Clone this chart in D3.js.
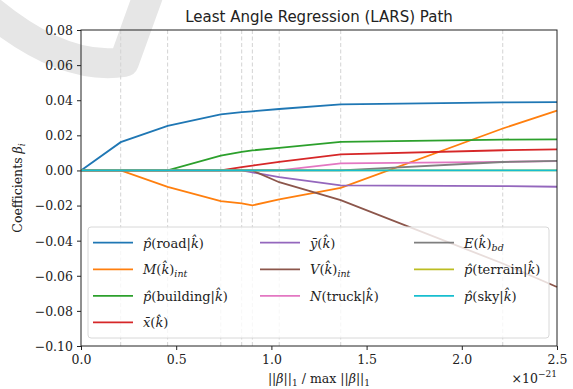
<!DOCTYPE html>
<html lang="en">
  <head>
    <meta charset="UTF-8" />
    <script src="https://cdn.jsdelivr.net/npm/d3@7" type="text/javascript"></script>
    <style type="text/css">
      body {
        margin: 0;
        background-color: #ffffff;
      }
    </style>
    <title>Least Angle Regression (LARS) Path</title>
  </head>
  <body>
    <div class="canvas"></div>
    <script>
      // breakpoints of the path, in units of 1e-21
      const steps = [0, 0.2085, 0.455, 0.734, 0.844, 0.9, 1.041, 1.364, 2.215, 2.5];

      const road = [0, 0.0161, 0.0254, 0.0319, 0.0332, 0.0337, 0.035, 0.0376, 0.0388, 0.0389];
      const mInt = [0, 0, -0.0093, -0.0175, -0.0188, -0.0199, -0.0165, -0.0099, 0.0239, 0.0341];
      const building = [0, 0, 0, 0.0085, 0.0106, 0.0114, 0.0129, 0.0163, 0.0176, 0.0177];
      const xBar = [0, 0, 0, 0, 0.0019, 0.0028, 0.0049, 0.0091, 0.0115, 0.012];
      const yBar = [0, 0, 0, 0, 0, -0.0011, -0.0038, -0.0085, -0.0089, -0.0093];
      const vInt = [0, 0, 0, 0, 0, 0, -0.0067, -0.0169, -0.053, -0.0664];
      const truck = [0, 0, 0, 0, 0, 0, 0, 0.004, 0.0049, 0.0053];
      const eBd = [0, 0, 0, 0, 0, 0, 0, 0, 0.0048, 0.0055];
      const terrain = [0, 0, 0, 0, 0, 0, 0, 0, 0, 0];
      const sky = [0, 0, 0, 0, 0, 0, 0, 0, 0, 0];

      const xTicks = [0, 0.5, 1.0, 1.5, 2.0, 2.5];
      const yTicks = [-0.1, -0.08, -0.06, -0.04, -0.02, 0, 0.02, 0.04, 0.06, 0.08];

      // legend labels as [text, style] pieces: r roman, i italic, s subscript
      const hat = "\u0302";
      const series = [
        { values: road, color: "#1f77b4", label: [["p" + hat, "i"], ["(road|", "r"], ["k" + hat, "i"], [")", "r"]] },
        { values: mInt, color: "#ff7f0e", label: [["M", "i"], ["(", "r"], ["k" + hat, "i"], [")", "r"], ["int", "s"]] },
        { values: building, color: "#2ca02c", label: [["p" + hat, "i"], ["(building|", "r"], ["k" + hat, "i"], [")", "r"]] },
        { values: xBar, color: "#d62728", label: [["x\u0304", "i"], ["(", "r"], ["k" + hat, "i"], [")", "r"]] },
        { values: yBar, color: "#9467bd", label: [["y\u0304", "i"], ["(", "r"], ["k" + hat, "i"], [")", "r"]] },
        { values: vInt, color: "#8c564b", label: [["V", "i"], ["(", "r"], ["k" + hat, "i"], [")", "r"], ["int", "s"]] },
        { values: truck, color: "#e377c2", label: [["N", "i"], ["(truck|", "r"], ["k" + hat, "i"], [")", "r"]] },
        { values: eBd, color: "#7f7f7f", label: [["E", "i"], ["(", "r"], ["k" + hat, "i"], [")", "r"], ["bd", "s"]] },
        { values: terrain, color: "#bcbd22", label: [["p" + hat, "i"], ["(terrain|", "r"], ["k" + hat, "i"], [")", "r"]] },
        { values: sky, color: "#17becf", label: [["p" + hat, "i"], ["(sky|", "r"], ["k" + hat, "i"], [")", "r"]] },
      ];

      const SERIF = '"DejaVu Serif", serif';

      const margin = { top: 30, right: 16, bottom: 43, left: 81 };
      const W = 573;
      const H = 389;

      const xScale = d3.scaleLinear().domain([0, 2.5]).range([margin.left, W - margin.right]);
      const yScale = d3.scaleLinear().domain([-0.1, 0.08]).range([H - margin.bottom, margin.top]);

      const svg = d3
        .select(".canvas")
        .append("svg")
        .attr("width", W)
        .attr("height", H);

      // faint watermark in the upper left corner
      svg
        .append("path")
        .attr("d", "M -20 2 Q 60 72 124 62 L 150 -10")
        .attr("fill", "none")
        .attr("stroke", "#e6e6e6")
        .attr("stroke-width", 30)
        .attr("stroke-linejoin", "round");

      // dashed lines at each step of the path
      svg
        .append("g")
        .selectAll("line")
        .data(steps.slice(1, -1))
        .join("line")
        .attr("x1", (d) => xScale(d))
        .attr("x2", (d) => xScale(d))
        .attr("y1", yScale.range()[0])
        .attr("y2", yScale.range()[1])
        .attr("stroke", "#d3d3d3")
        .attr("stroke-width", 1)
        .attr("stroke-dasharray", "4,2.5");

      const line = d3
        .line()
        .x((d, i) => xScale(steps[i]))
        .y((d) => yScale(d));

      svg
        .append("g")
        .selectAll("path")
        .data(series)
        .join("path")
        .attr("d", (d) => line(d.values))
        .attr("fill", "none")
        .attr("stroke", (d) => d.color)
        .attr("stroke-width", 1.8);

      const fmtMinus = (s) => s.replace("-", "\u2212");

      const xAxis = svg
        .append("g")
        .attr("transform", `translate(0,${H - margin.bottom})`)
        .call(
          d3.axisBottom(xScale).tickValues(xTicks).tickFormat(d3.format(".1f")).tickSize(4).tickSizeOuter(0)
        );
      const yAxis = svg
        .append("g")
        .attr("transform", `translate(${margin.left},0)`)
        .call(
          d3
            .axisLeft(yScale)
            .tickValues(yTicks)
            .tickFormat((d) => fmtMinus(d3.format(".2f")(d)))
            .tickSize(4)
            .tickSizeOuter(0)
        );
      [xAxis, yAxis].forEach((a) => {
        a.attr("font-family", null).attr("font-size", null);
        a.select(".domain").remove();
        a.selectAll(".tick line").attr("stroke", "#222").attr("stroke-width", 1);
        a.selectAll(".tick text")
          .style("font-family", SERIF)
          .style("font-size", "12.5px")
          .attr("fill", "#222");
      });
      xAxis.selectAll(".tick text").attr("dy", null).attr("y", 18);
      yAxis.selectAll(".tick text").attr("x", -8).attr("dy", "0.35em");

      // frame
      svg
        .append("rect")
        .attr("x", margin.left)
        .attr("y", margin.top)
        .attr("width", W - margin.left - margin.right)
        .attr("height", H - margin.top - margin.bottom)
        .attr("fill", "none")
        .attr("stroke", "#222")
        .attr("stroke-width", 1);

      // legend
      const legend = svg.append("g");
      legend
        .append("rect")
        .attr("x", 88)
        .attr("y", 227)
        .attr("width", 461)
        .attr("height", 111)
        .attr("rx", 3)
        .attr("fill", "white")
        .attr("fill-opacity", 0.8)
        .attr("stroke", "#d8d8d8")
        .attr("stroke-width", 1);

      const colX = [93, 260, 414];
      const rowY = [242.7, 269.3, 295.9, 322.4];
      const colOf = (i) => (i < 4 ? 0 : i < 7 ? 1 : 2);
      const rowOf = (i) => (i < 4 ? i : i < 7 ? i - 4 : i - 7);

      const item = legend
        .selectAll(".item")
        .data(series)
        .join("g")
        .attr("class", "item")
        .attr("transform", (d, i) => `translate(${colX[colOf(i)]},${rowY[rowOf(i)]})`);

      item
        .append("line")
        .attr("x1", 0)
        .attr("x2", 40)
        .attr("stroke", (d) => d.color)
        .attr("stroke-width", 1.8);

      const label = item
        .append("text")
        .style("font-family", SERIF)
        .style("font-size", "13px")
        .attr("x", 50)
        .attr("y", 5)
        .attr("fill", "#222");
      label.each(function (d) {
        const t = d3.select(this);
        d.label.forEach(([txt, st]) => {
          const sp = t.append("tspan").text(txt);
          if (st === "i" || st === "s") sp.style("font-style", "italic");
          if (st === "s") sp.style("font-size", "9.5px").attr("dy", 3);
        });
      });

      // title and axis labels
      svg
        .append("text")
        .attr("x", (margin.left + W - margin.right) / 2)
        .attr("y", 22)
        .attr("text-anchor", "middle")
        .style("font-family", '"DejaVu Sans", sans-serif')
        .style("font-size", "15px")
        .attr("fill", "#222")
        .text("Least Angle Regression (LARS) Path");

      const yl = svg
        .append("text")
        .attr("transform", `translate(22,${(margin.top + H - margin.bottom) / 2}) rotate(-90)`)
        .attr("text-anchor", "middle")
        .style("font-family", SERIF)
        .style("font-size", "12.5px")
        .attr("fill", "#222");
      yl.append("tspan").text("Coefficients ");
      yl.append("tspan").style("font-style", "italic").text("\u03b2");
      yl.append("tspan").style("font-style", "italic").style("font-size", "9px").attr("dy", 3).text("i");

      const xl = svg
        .append("text")
        .attr("x", (margin.left + W - margin.right) / 2)
        .attr("y", 383)
        .attr("text-anchor", "middle")
        .style("font-family", SERIF)
        .style("font-size", "12.5px")
        .attr("fill", "#222");
      xl.append("tspan").text("||");
      xl.append("tspan").style("font-style", "italic").text("\u03b2");
      xl.append("tspan").text("||");
      xl.append("tspan").style("font-size", "9px").attr("dy", 3).text("1");
      xl.append("tspan").attr("dy", -3).text(" / max ||");
      xl.append("tspan").style("font-style", "italic").text("\u03b2");
      xl.append("tspan").text("||");
      xl.append("tspan").style("font-size", "9px").attr("dy", 3).text("1");

      const off = svg
        .append("text")
        .attr("x", W - margin.right)
        .attr("y", 383)
        .attr("text-anchor", "end")
        .style("font-family", SERIF)
        .style("font-size", "12.5px")
        .attr("fill", "#222");
      off.append("tspan").text("\u00d710");
      off.append("tspan").style("font-size", "9px").attr("dy", -6).text("\u221221");
    </script>
  </body>
</html>
